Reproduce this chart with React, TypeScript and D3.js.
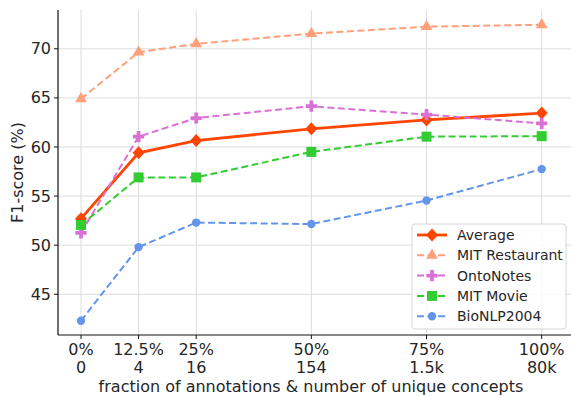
import React, { useEffect, useRef } from 'react'
import * as d3 from 'd3'

// fraction of annotations (%) and matching number of unique concepts
const fractions = [0, 12.5, 25, 50, 75, 100]
const fractionLabels = ['0%', '12.5%', '25%', '50%', '75%', '100%']
const conceptLabels = ['0', '4', '16', '154', '1.5k', '80k']
const yTicks = [45, 50, 55, 60, 65, 70]

const average = [52.7, 59.4, 60.65, 61.85, 62.75, 63.45]
const mitRestaurant = [64.9, 69.65, 70.5, 71.55, 72.25, 72.45]
const ontoNotes = [51.25, 61.05, 62.95, 64.15, 63.3, 62.4]
const mitMovie = [52.05, 56.9, 56.9, 59.5, 61.05, 61.1]
const bioNLP = [42.3, 49.8, 52.3, 52.15, 54.55, 57.75]

interface Series {
  name: string
  values: number[]
  color: string
  dashed: boolean
  marker: string
}

const series: Series[] = [
  { name: 'Average', values: average, color: '#ff4500', dashed: false, marker: 'diamond' },
  { name: 'MIT Restaurant', values: mitRestaurant, color: '#ffa07a', dashed: true, marker: 'triangle' },
  { name: 'OntoNotes', values: ontoNotes, color: '#da70d6', dashed: true, marker: 'plus' },
  { name: 'MIT Movie', values: mitMovie, color: '#32cd32', dashed: true, marker: 'square' },
  { name: 'BioNLP2004', values: bioNLP, color: '#6495ed', dashed: true, marker: 'circle' }
]

const W = 571
const H = 396
const FONT = '"DejaVu Sans", sans-serif'

function markerPath (kind: string): string {
  switch (kind) {
    case 'diamond': return 'M0,-6.5L6,0L0,6.5L-6,0Z'
    case 'triangle': return d3.symbol(d3.symbolTriangle, 60)()!
    case 'plus': return d3.symbol(d3.symbolCross, 70)()!
    case 'square': return 'M-5,-5H5V5H-5Z'
    default: return d3.symbol(d3.symbolCircle, 55)()!
  }
}

function drawMarker (g: d3.Selection<SVGGElement, unknown, null, undefined>, s: Series, x: number, y: number) {
  g.append('path')
    .attr('d', markerPath(s.marker))
    .attr('transform', `translate(${x},${y})`)
    .attr('fill', s.color)
    .attr('stroke', 'none')
}

export default function App () {
  const ref = useRef<SVGSVGElement>(null)

  useEffect(() => {
    const svg = d3.select(ref.current)
    svg.selectAll('*').remove()

    const left = 58
    const right = 575
    const top = 10
    const bottom = 335

    const x = d3.scaleLinear().domain([0, 100]).range([81, 541.7])
    const y = d3.scaleLinear().domain([40.85, 73.95]).range([bottom, top])

    // grid
    const grid = svg.append('g').attr('stroke', '#dcdcdc').attr('stroke-width', 1)
    fractions.forEach((f) => {
      grid.append('line').attr('x1', x(f)).attr('x2', x(f)).attr('y1', top).attr('y2', bottom)
    })
    yTicks.forEach((t) => {
      grid.append('line').attr('x1', left).attr('x2', right).attr('y1', y(t)).attr('y2', y(t))
    })

    // spines + ticks
    svg.append('line').attr('x1', left).attr('x2', left).attr('y1', top).attr('y2', bottom)
      .attr('stroke', '#111').attr('stroke-width', 1.2)
    svg.append('line').attr('x1', left).attr('x2', right).attr('y1', bottom).attr('y2', bottom)
      .attr('stroke', '#111').attr('stroke-width', 1.2)

    const yAxis = svg.append('g').attr('font-family', FONT).attr('font-size', 16).attr('fill', '#262626')
    yTicks.forEach((t) => {
      yAxis.append('line').attr('x1', left - 4).attr('x2', left).attr('y1', y(t)).attr('y2', y(t))
        .attr('stroke', '#111')
      yAxis.append('text').attr('x', left - 7).attr('y', y(t)).attr('dy', '0.35em')
        .attr('text-anchor', 'end').text(t)
    })

    const xAxis = svg.append('g').attr('font-family', FONT).attr('font-size', 16).attr('fill', '#262626')
    fractions.forEach((f, i) => {
      xAxis.append('line').attr('x1', x(f)).attr('x2', x(f)).attr('y1', bottom).attr('y2', bottom + 4)
        .attr('stroke', '#111')
      xAxis.append('text').attr('x', x(f)).attr('y', 355).attr('text-anchor', 'middle').text(fractionLabels[i])
      xAxis.append('text').attr('x', x(f)).attr('y', 373).attr('text-anchor', 'middle').text(conceptLabels[i])
    })

    svg.append('text').attr('x', 311).attr('y', 392)
      .attr('text-anchor', 'middle').attr('font-family', FONT).attr('font-size', 16).attr('fill', '#262626')
      .text('fraction of annotations & number of unique concepts')

    svg.append('text').attr('transform', `translate(23,${(top + bottom) / 2}) rotate(-90)`)
      .attr('text-anchor', 'middle').attr('font-family', FONT).attr('font-size', 16).attr('fill', '#262626')
      .text('F1-score (%)')

    // series
    const line = d3.line<number>().x((d, i) => x(fractions[i])).y((d) => y(d))
    series.forEach((s) => {
      const g = svg.append('g')
      g.append('path')
        .attr('d', line(s.values))
        .attr('fill', 'none')
        .attr('stroke', s.color)
        .attr('stroke-width', s.dashed ? 2 : 2.8)
        .attr('stroke-dasharray', s.dashed ? '7,3.5' : null)
      s.values.forEach((v, i) => drawMarker(g, s, x(fractions[i]), y(v)))
    })

    // legend
    const lg = svg.append('g')
    lg.append('rect').attr('x', 412).attr('y', 224).attr('width', 154).attr('height', 105)
      .attr('rx', 3).attr('fill', 'white').attr('fill-opacity', 0.85).attr('stroke', '#d6d6d6')
    series.forEach((s, i) => {
      const ly = 235 + i * 20.3
      lg.append('line').attr('x1', 417).attr('x2', 447).attr('y1', ly).attr('y2', ly)
        .attr('stroke', s.color).attr('stroke-width', s.dashed ? 2 : 2.8)
        .attr('stroke-dasharray', s.dashed ? '7,3.5' : null)
      drawMarker(lg, s, 432, ly)
      lg.append('text').attr('x', 457).attr('y', ly).attr('dy', '0.35em')
        .attr('font-family', FONT).attr('font-size', 14).attr('fill', '#262626').text(s.name)
    })
  }, [])

  return (
    <svg ref={ref} width={W} height={H}
      style={{ position: 'absolute', left: 0, top: 0, background: 'white', display: 'block' }} />
  )
}
